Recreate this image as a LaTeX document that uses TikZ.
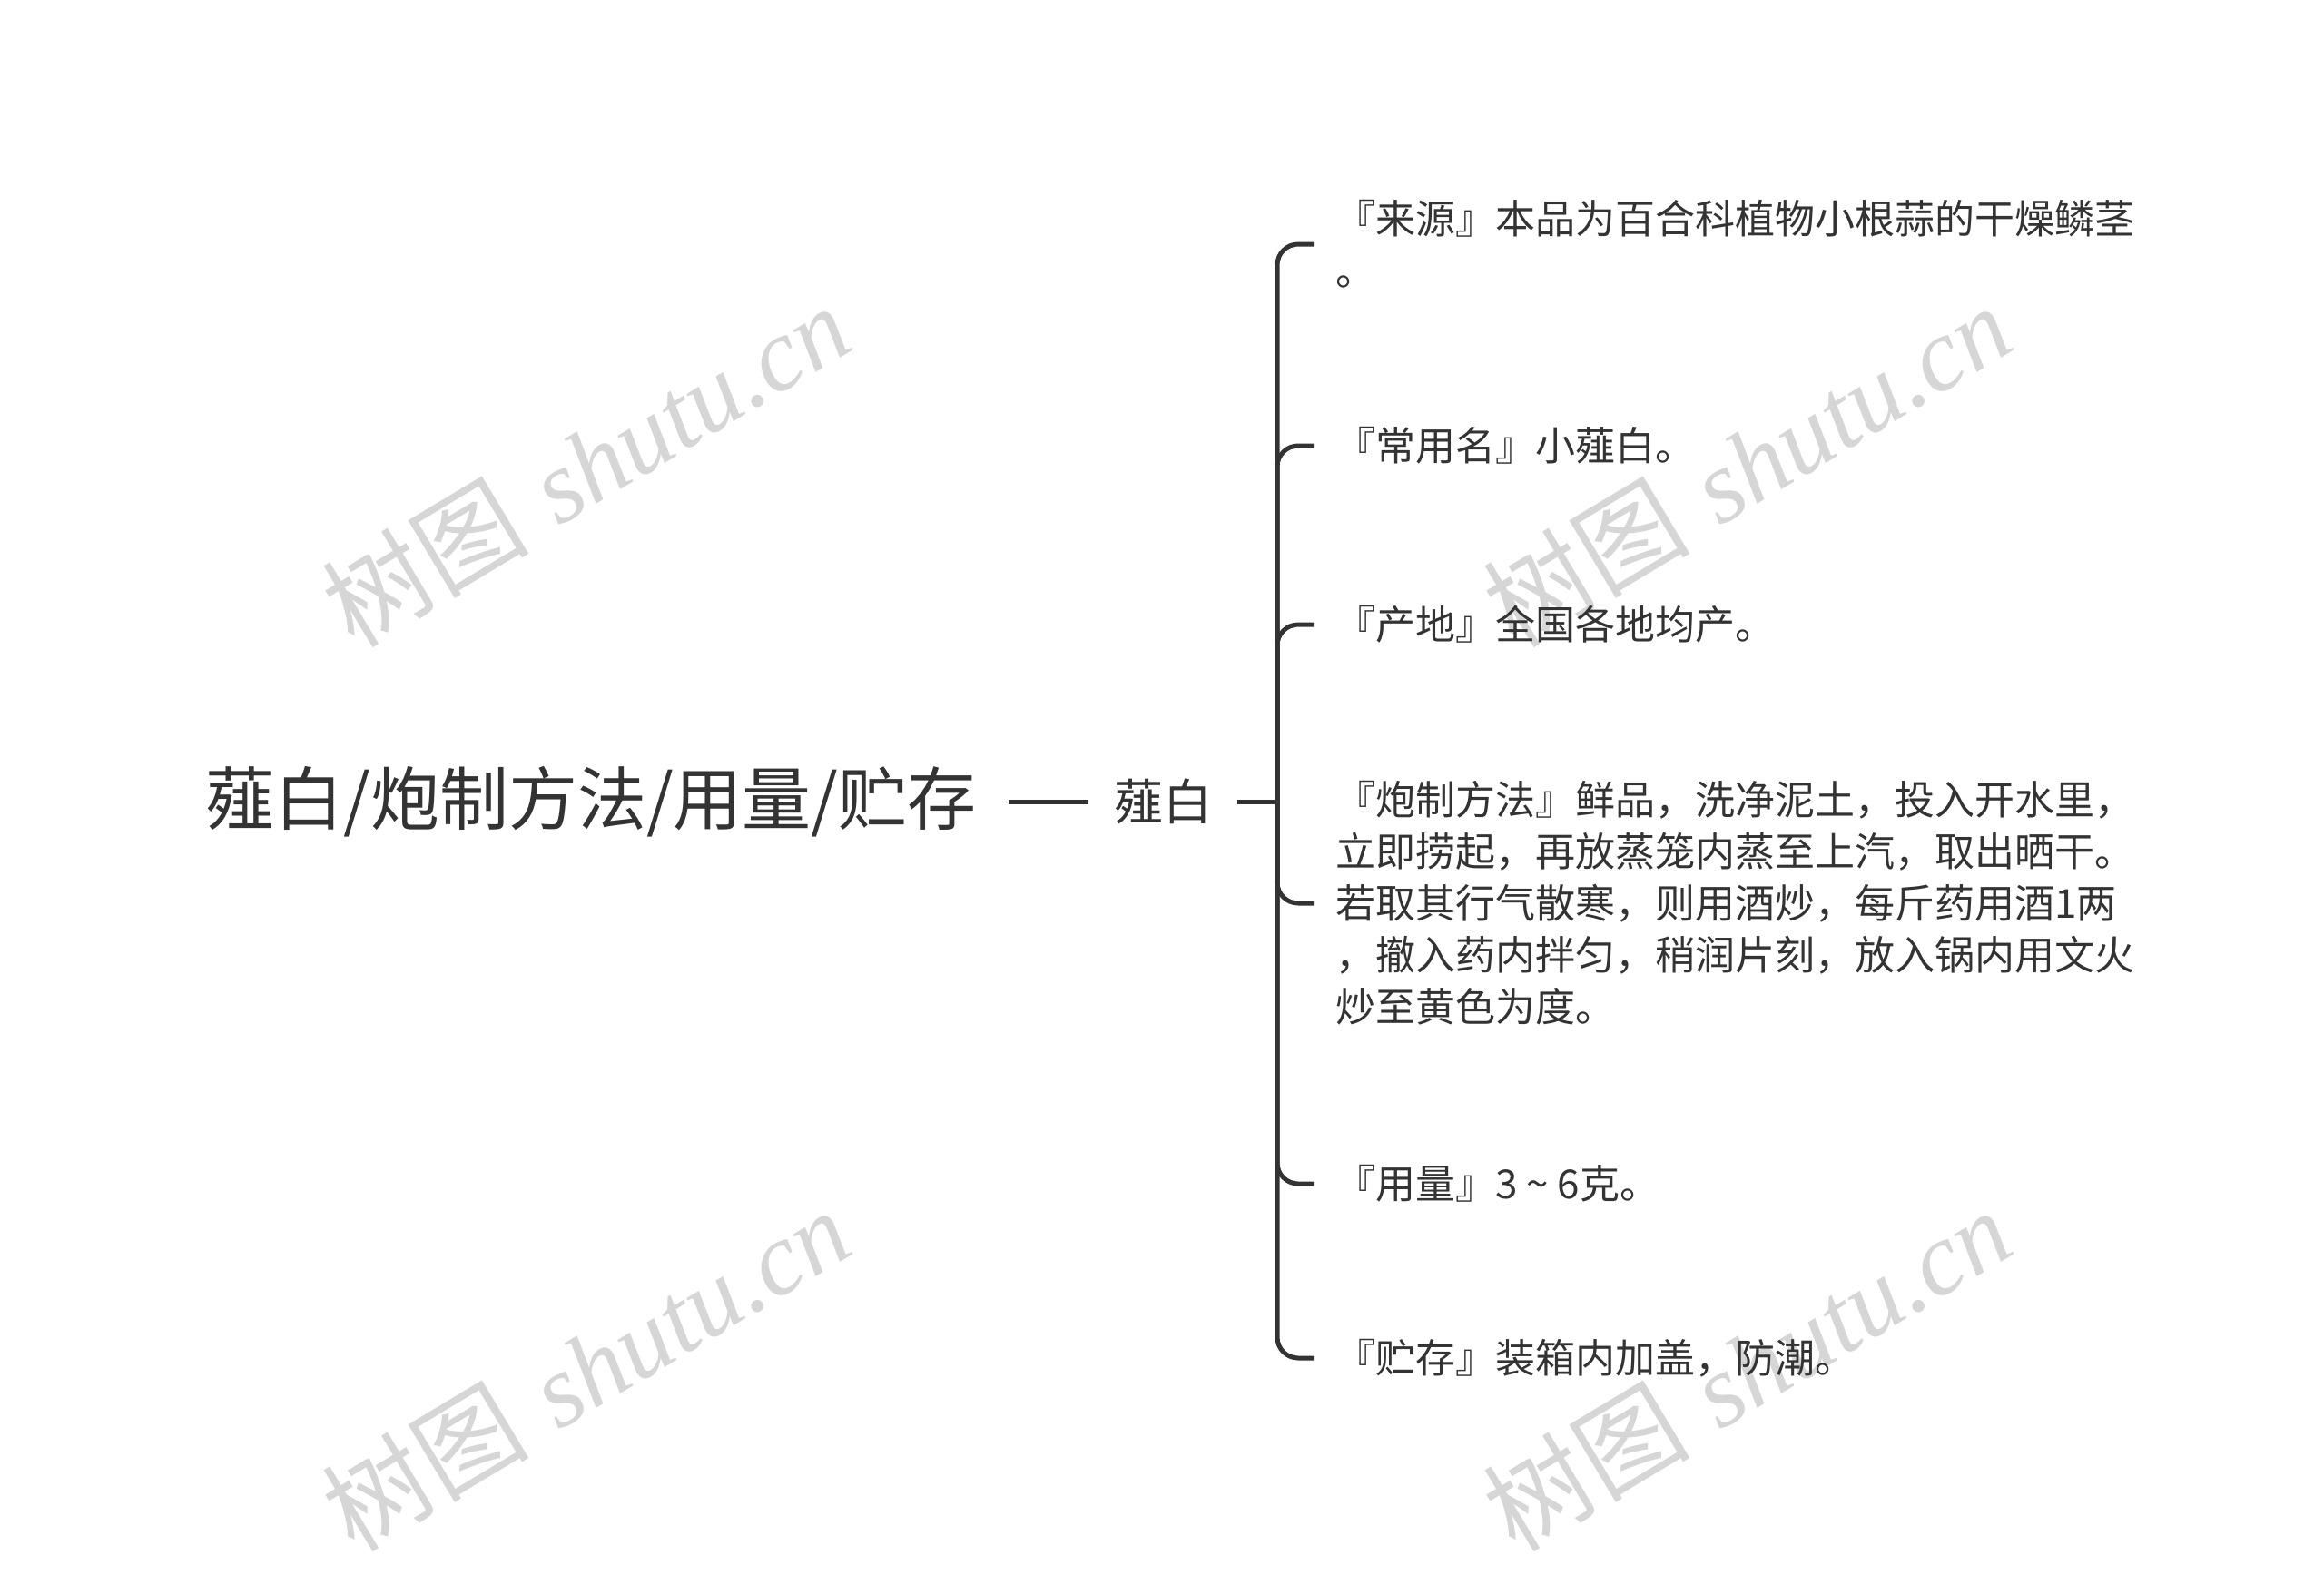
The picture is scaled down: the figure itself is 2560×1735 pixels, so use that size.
\documentclass[tikz,border=0pt]{standalone}
\usepackage{fontspec}
\newfontfamily\cjk{Noto Sans CJK SC}
\newfontfamily\wmserif{Liberation Serif}
\definecolor{ink}{HTML}{333333}
\definecolor{wm}{HTML}{D6D6D6}
\tikzset{
  rootbox/.style={inner xsep=17.5pt, inner ysep=0pt, text=ink, font=\cjk\fontsize{38pt}{46pt}\selectfont},
  subbox/.style={inner xsep=14pt, inner ysep=0pt, text=ink, font=\cjk\fontsize{27pt}{32pt}\selectfont},
  leafbox/.style={anchor=west, inner xsep=12pt, inner ysep=0pt, align=left, text=ink, font=\cjk\fontsize{22pt}{28.5pt}\selectfont},
  link/.style={draw=ink, line width=2.5pt},
  branch/.style={draw=ink, line width=2.5pt, rounded corners=11.5pt},
  watermark/.style={text=wm, rotate=31, inner sep=0pt, font=\fontsize{57pt}{66pt}\selectfont}
}
\begin{document}
\begin{tikzpicture}[x=0.5pt, y=-0.5pt]
\useasboundingbox (0,0) rectangle (2560,1735);
\fill[white] (0,0) rectangle (2560,1735);
% watermarks
\node[watermark] (wm1) at (645,512) {{\cjk 树图} {\wmserif\itshape shutu.cn}};
\node[watermark] (wm2) at (1924,512) {{\cjk 树图} {\wmserif\itshape shutu.cn}};
\node[watermark] (wm3) at (645,1508) {{\cjk 树图} {\wmserif\itshape shutu.cn}};
\node[watermark] (wm4) at (1924,1508) {{\cjk 树图} {\wmserif\itshape shutu.cn}};
% nodes
\node[rootbox] (root) at (651,883) {薤白/炮制方法/用量/贮存};
\node[subbox] (sub) at (1281,883) {薤白};
\coordinate (j) at (1407,883);
\node[leafbox] (l1) at (1447,269) {『来源』本品为百合科植物小根蒜的干燥鳞茎\\。};
\node[leafbox] (l2) at (1447,491) {『常用名』小薤白。};
\node[leafbox] (l3) at (1447,688) {『产地』全国各地均产。};
\node[leafbox] (l4) at (1447,995) {『炮制方法』鲜品，洗净泥土，投入开水里，\\立即捞起，再放蒸笼内蒸至上汽，取出晒干。\\若取其行气散寒，则用酒炒，每斤药用酒1两\\，撤入药内拌匀，稍润片刻，放入锅内用文火\\炒至黄色为度。};
\node[leafbox] (l5) at (1447,1304) {『用量』3\hspace{0.22em}{\char"7E}\hspace{0.22em}6克。};
\node[leafbox] (l6) at (1447,1496) {『贮存』装箱内加盖，防潮。};
% connectors
\draw[link] (root.east) -- (sub.west);
\draw[link] (sub.east) -- (j);
\foreach \n in {l1,l2,l3,l4,l5,l6} {
  \draw[branch] (j) |- (\n.west);
}
\end{tikzpicture}
\end{document}
